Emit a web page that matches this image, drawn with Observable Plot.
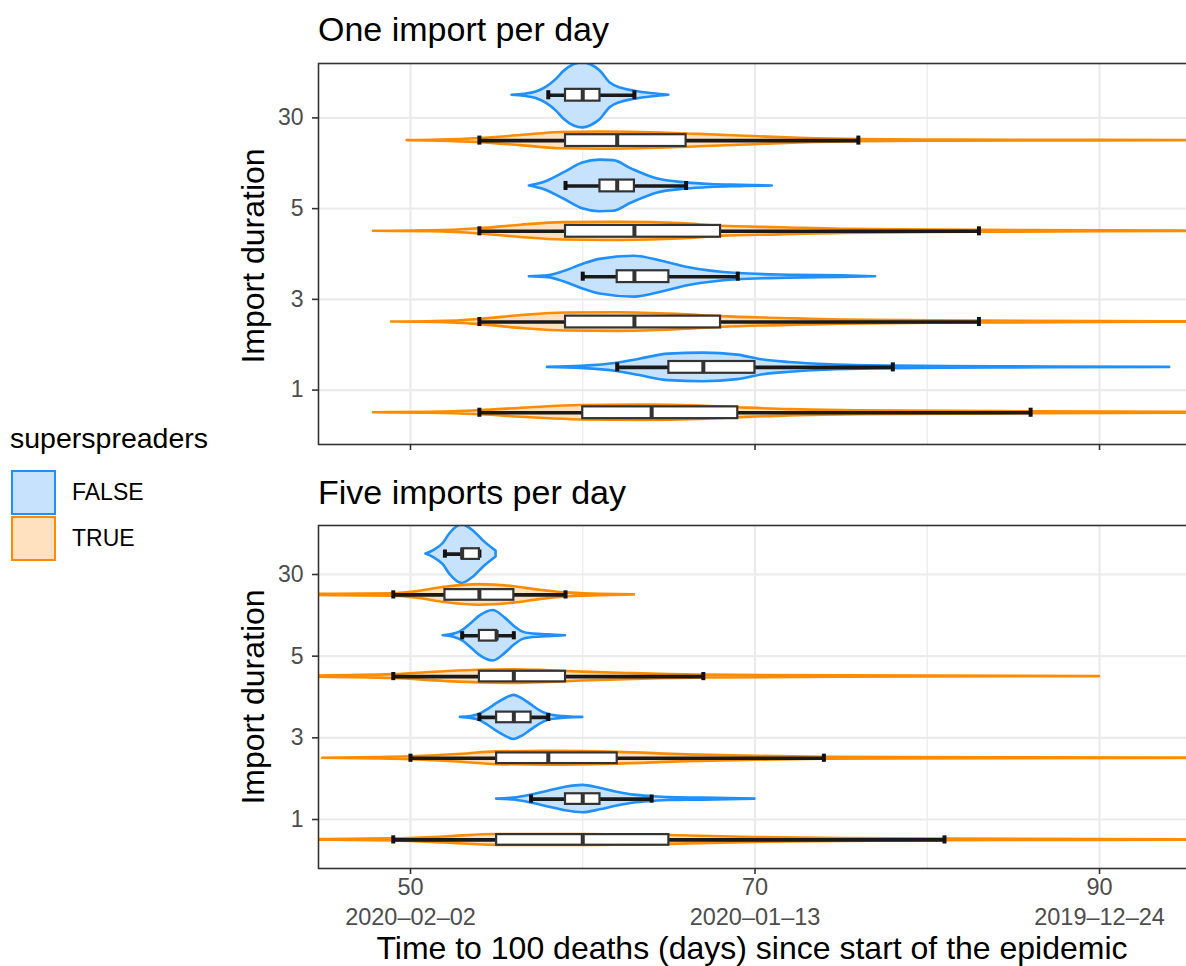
<!DOCTYPE html>
<html><head><meta charset="utf-8">
<script src="https://cdn.jsdelivr.net/npm/d3@7"></script>
<script src="https://cdn.jsdelivr.net/npm/@observablehq/plot@0.6"></script>
<style>
body{margin:0;background:#fff}
#root{position:relative;width:1186px;height:966px;overflow:hidden;font-family:"Liberation Sans",Arial,sans-serif;color:#000;background:#fff}
#root svg{max-width:none !important}
.abs{position:absolute;white-space:nowrap}
</style></head><body><div id="root"></div>
<script>
// ---------- data ----------
const durations = ["1", "3", "5", "30"];
const superspreaders = ["FALSE", "TRUE"];
const panelTitles = ["One import per day", "Five imports per day"];
const xTicks = [50, 70, 90];
const xMinorTicks = [60, 80];
const xTickDates = ["2020–02–02", "2020–01–13", "2019–12–24"];
const xLabel = "Time to 100 deaths (days) since start of the epidemic";
const yLabel = "Import duration";
const legendTitle = "superspreaders";

// violin density profiles [day, density] — One import per day
const one_1_false  = [[57.95,0],[59.9,0.006],[62,0.025],[63.3,0.05],[65,0.081],[67,0.0875],[69,0.075],[70.5,0.045],[72,0.03],[74.4,0.016],[78,0.008],[84,0.004],[94.07,0]];
const one_1_true   = [[47.85,0],[51.2,0.003],[54,0.0125],[57,0.031],[59.9,0.044],[63.4,0.047],[66.8,0.041],[69,0.031],[72,0.019],[76,0.0125],[86,0.006],[95,0.003],[101.7,0]];
const one_3_false  = [[56.9,0],[58.0,0.006],[58.9,0.031],[60.0,0.075],[61.0,0.106],[63.0,0.125],[64.6,0.094],[66.1,0.056],[69.0,0.019],[72.0,0.009],[75,0.005],[77.0,0]];
const one_3_true   = [[48.9,0],[51.5,0.003],[54,0.016],[56.5,0.04],[59,0.055],[62,0.057],[65.5,0.047],[68,0.033],[71.5,0.022],[75,0.0125],[83,0.006],[90,0.0025],[99,0]];
const one_5_false  = [[56.9,0],[57.7,0.02],[58.9,0.08],[60.0,0.14],[61.0,0.158],[61.8,0.155],[62.8,0.106],[64.3,0.044],[66.0,0.019],[67.4,0.009],[69.2,0.004],[71.0,0]];
const one_5_true   = [[47.85,0],[51.2,0.003],[54,0.016],[56.4,0.0375],[58.9,0.053],[62.2,0.056],[65.7,0.047],[68,0.031],[71.5,0.022],[75,0.0125],[83,0.006],[90,0.0025],[98.8,0]];
const one_30_false = [[55.9,0],[56.6,0.006],[57.3,0.02],[57.9,0.05],[58.5,0.1],[58.9,0.145],[59.5,0.188],[60.0,0.2],[60.5,0.185],[61.0,0.15],[61.6,0.075],[62.2,0.044],[63.0,0.025],[64.1,0.009],[65.0,0]];
const one_30_true  = [[49.8,0],[51.7,0.003],[54,0.0125],[56.4,0.031],[58.7,0.05],[61,0.053],[63.4,0.05],[66.8,0.038],[69.9,0.025],[72.6,0.014],[76,0.006],[81.4,0.003],[90,0.002],[98.8,0]];

// violin density profiles [day, density] — Five imports per day
const five_1_false  = [[55,0],[56,0.017],[57,0.067],[58,0.133],[59,0.2],[60,0.233],[61,0.183],[62,0.117],[63,0.067],[64,0.042],[65,0.025],[67,0.017],[70,0]];
const five_1_true   = [[44,0.005],[49,0.017],[52,0.05],[55,0.092],[60,0.092],[65,0.075],[70,0.042],[75,0.025],[81,0.013],[90,0.007],[100,0]];
const five_3_false  = [[52.9,0],[53.5,0.017],[54,0.05],[54.5,0.133],[55,0.233],[55.5,0.317],[56,0.375],[56.5,0.317],[57,0.217],[57.5,0.117],[58,0.05],[58.5,0.025],[60,0]];
const five_3_true   = [[44.9,0],[48,0.012],[50,0.025],[53,0.067],[55,0.108],[58,0.117],[62,0.1],[66,0.058],[70,0.033],[74,0.017],[85,0.008],[100,0]];
const five_5_false  = [[51.9,0],[52.6,0.033],[53,0.083],[53.5,0.2],[54,0.33],[54.8,0.43],[55.5,0.3],[56,0.167],[56.5,0.067],[57,0.033],[58,0.017],[59,0]];
const five_5_true   = [[44,0.008],[49,0.033],[52,0.083],[54,0.108],[56,0.117],[58,0.1],[60,0.075],[63,0.05],[67,0.025],[75,0.012],[90,0]];
const five_30_false = [[50.9,0],[51.35,0.06],[51.9,0.18],[52.3,0.35],[53,0.5],[53.7,0.38],[54.25,0.22],[54.97,0.05]];
const five_30_true  = [[44,0.01],[49,0.02],[50.5,0.06],[52,0.13],[54,0.175],[56,0.14],[57.5,0.08],[59,0.035],[61,0.012],[63,0]];

// box statistics [lower whisker, q1, median, q3, upper whisker], in durations order
const one_box_false  = [[62,65,67,70,78],[60,62,63,65,69],[59,61,62,63,66],[58,59,60,61,63]];
const one_box_true   = [[54,60,64,69,86],[54,59,63,68,83],[54,59,63,68,83],[54,59,62,66,76]];
const five_box_false = [[57,59,60,61,64],[54,55,56,57,58],[53,54,55,55,56],[52,53,53,54,54]];
const five_box_true  = [[49,55,60,65,81],[50,55,58,62,74],[49,54,56,59,67],[49,52,54,56,59]];

// ---------- styles ----------
const FILL = {FALSE: "#c7e2fd", TRUE: "#ffe1c0"};
const STROKE = {FALSE: "#1e90ff", TRUE: "#ff8c00"};
const DODGE = 0.25, VIOLIN_HALF = 0.36, BOX_HALF = 0.065, CAP_HALF = 0.05;
const FONT = "'Liberation Sans', Arial, sans-serif";

function buildPanel({profiles, boxes, height, marginTop, marginBottom, tickLabels}) {
  const rows = [];
  superspreaders.forEach(ss => durations.forEach((dur, i) => {
    profiles[ss][i].forEach(([day, dens]) => rows.push({ss, dur, i, day, dens}));
  }));
  const boxRows = [];
  superspreaders.forEach(ss => durations.forEach((dur, i) => {
    const [lo, q1, med, q3, hi] = boxes[ss][i];
    boxRows.push({ss, dur, i, lo, q1, med, q3, hi});
  }));
  const k = VIOLIN_HALF / d3.max(rows, d => d.dens);
  const c = d => d.i + (d.ss === "FALSE" ? DODGE : -DODGE);
  const violin = ss => Plot.areaY(rows.filter(d => d.ss === ss), {
    x: "day", y1: d => c(d) - d.dens * k, y2: d => c(d) + d.dens * k, z: "dur",
    fill: FILL[ss], stroke: STROKE[ss], strokeWidth: 2.6, curve: "monotone-x", clip: true
  });
  const axes = [
    Plot.axisY({ticks: [0, 1, 2, 3], tickFormat: i => durations[i], tickSize: 6, tickPadding: 9,
      fontSize: 23, color: "#4d4d4d", stroke: "#333", strokeWidth: 1.6, label: null})
  ];
  if (tickLabels) {
    axes.push(Plot.axisX({ticks: xTicks, tickSize: 6, tickPadding: 4, fontSize: 23.5,
      color: "#4d4d4d", stroke: "#333", strokeWidth: 1.6, label: null}));
    axes.push(Plot.axisX({ticks: xTicks, tickSize: 0, tickPadding: 40, fontSize: 23.5,
      tickFormat: d => xTickDates[xTicks.indexOf(d)], color: "#4d4d4d", label: null}));
  } else {
    axes.push(Plot.axisX({ticks: xTicks, tickSize: 6, tickFormat: () => "",
      stroke: "#333", strokeWidth: 1.6, label: null}));
  }
  return Plot.plot({
    width: 1196, height, marginLeft: 318, marginRight: 0, marginTop, marginBottom,
    x: {domain: [44.66, 95.63]},
    y: {domain: [-0.6, 3.6]},
    style: {fontFamily: FONT, background: "transparent", overflow: "visible", maxWidth: "none"},
    marks: [
      Plot.ruleX(xMinorTicks, {stroke: "#ebebeb", strokeWidth: 1.2}),
      Plot.ruleX(xTicks, {stroke: "#ebebeb", strokeWidth: 2.2}),
      Plot.ruleY([0, 1, 2, 3], {stroke: "#ebebeb", strokeWidth: 2.2}),
      violin("FALSE"),
      violin("TRUE"),
      Plot.ruleY(boxRows, {y: c, x1: "lo", x2: "hi", stroke: "#1a1a1a", strokeWidth: 3.6, clip: true}),
      Plot.ruleX(boxRows, {x: "lo", y1: d => c(d) - CAP_HALF, y2: d => c(d) + CAP_HALF, stroke: "#111", strokeWidth: 4}),
      Plot.ruleX(boxRows, {x: "hi", y1: d => c(d) - CAP_HALF, y2: d => c(d) + CAP_HALF, stroke: "#111", strokeWidth: 4}),
      Plot.rect(boxRows, {x1: "q1", x2: "q3", y1: d => c(d) - BOX_HALF, y2: d => c(d) + BOX_HALF,
        fill: "white", stroke: "#333", strokeWidth: 2.2}),
      Plot.ruleX(boxRows, {x: "med", y1: d => c(d) - BOX_HALF, y2: d => c(d) + BOX_HALF, stroke: "#333", strokeWidth: 4}),
      Plot.frame({stroke: "#333", strokeWidth: 1.6}),
      ...axes
    ]
  });
}

const root = document.getElementById("root");
function place(el, left, top) {
  el.style.position = "absolute"; el.style.left = left + "px"; el.style.top = top + "px";
  el.style.maxWidth = "none";
  root.appendChild(el); return el;
}
function label(text, left, top, size, extra = "", lh = size) {
  const d = document.createElement("div");
  d.className = "abs";
  d.textContent = text;
  d.style.cssText += `left:${left}px;top:${top}px;font-size:${size}px;line-height:${lh}px;${extra}`;
  root.appendChild(d); return d;
}

const p1 = buildPanel({
  profiles: {FALSE: [one_1_false, one_3_false, one_5_false, one_30_false],
             TRUE: [one_1_true, one_3_true, one_5_true, one_30_true]},
  boxes: {FALSE: one_box_false, TRUE: one_box_true},
  height: 466, marginTop: 63, marginBottom: 22, tickLabels: false
});
place(p1, 0, 0);
const p2 = buildPanel({
  profiles: {FALSE: [five_1_false, five_3_false, five_5_false, five_30_false],
             TRUE: [five_1_true, five_3_true, five_5_true, five_30_true]},
  boxes: {FALSE: five_box_false, TRUE: five_box_true},
  height: 466, marginTop: 55, marginBottom: 68, tickLabels: true
});
place(p2, 0, 470);

// titles
label(panelTitles[0], 318, 12, 34);
label(panelTitles[1], 318, 474.5, 34);
// y axis titles (rotated)
function yTitle(cy) {
  const w = 300, lh = 32;
  return label(yLabel, 253 - w / 2, cy - lh / 2, 32,
    `width:${w}px;text-align:center;transform:rotate(-90deg);transform-origin:50% 50%;`);
}
yTitle(255.5);
yTitle(697);
// x axis title
label(xLabel, 318, 936, 32, "width:868px;text-align:center;", 24);

// legend
label(legendTitle, 10, 424, 28.5);
superspreaders.forEach((ss, j) => {
  const key = document.createElement("div");
  key.style.cssText = `position:absolute;left:11px;top:${470 + j * 46}px;width:45px;height:45px;box-sizing:border-box;border:2.5px solid ${STROKE[ss]};background:${FILL[ss]};`;
  root.appendChild(key);
  label(ss, 72, 492 + j * 46 - 11.2, 23);
});
</script></body></html>
